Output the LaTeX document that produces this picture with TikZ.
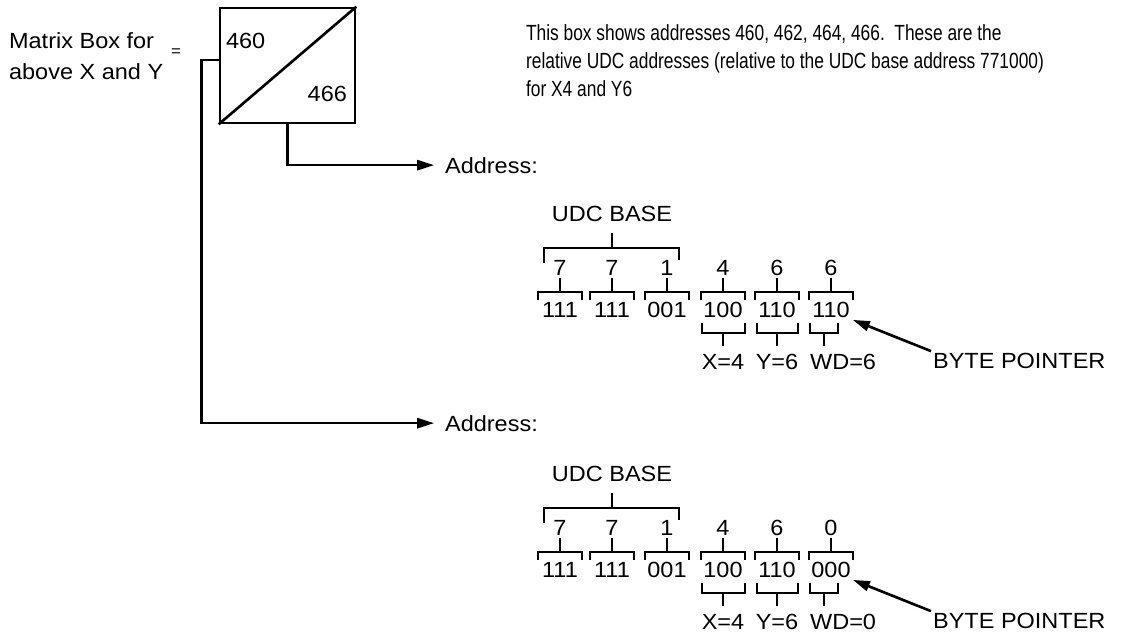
\documentclass[tikz,border=0pt]{standalone}
\usepackage{fontspec}
\setmainfont{Liberation Sans}[FakeStretch=1.07]
\newfontfamily\notefont{Liberation Sans}[FakeStretch=0.79]
\usetikzlibrary{arrows.meta}

\begin{document}
\begin{tikzpicture}[
    x=0.02cm, y=-0.02cm,
    font=\fontsize{12.5}{16.2}\selectfont,
    wire/.style={line width=1.5pt},
    brk/.style={line width=1.2pt},
    arr/.style={wire, -{Triangle[length=0.34cm, width=0.2cm]}},
    txt/.style={inner sep=1pt},
    bits/.style={txt, minimum width=0.86cm}
]
\useasboundingbox (0,0) rectangle (1140,637);

% the matrix box
\node[draw, wire, minimum width=2.7cm, minimum height=2.3cm] (mbox) at (287.5,65.5) {};
\draw[wire] (mbox.south west) -- (mbox.north east);
\node[txt, anchor=base west] (lo) at (224,48) {460};
\node[txt, anchor=base east] (hi) at (349,101) {466};

\node[txt, anchor=north west, align=left] (mlabel) at (7,30) {Matrix Box for\\[1.5pt]above X and Y};
\node[txt, font=\small] (eq) at (176,53) {=};

\node[txt, anchor=north west, align=left,
      font=\notefont\fontsize{12.5}{16.2}\selectfont] (note) at (524,22) {%
    This box shows addresses 460, 462, 464, 466.\ \ These are the\\
    relative UDC addresses (relative to the UDC base address 771000)\\
    for X4 and Y6};

% the two connectors
\node[txt, anchor=base west] (addr1) at (443,173) {Address:};
\node[txt, anchor=base west] (addr2) at (443,431) {Address:};
\coordinate (tap) at (mbox.west |- 0,60);
\draw[arr, shorten >=5pt] (mbox.south) |- (addr1.west);
\draw[arr, shorten >=5pt] (tap) -- ++(-17,0) |- (addr2.west);

% address break-down, drawn twice
\foreach \dy/\last/\lbits/\wdval [count=\k] in {0/6/110/6, 260/0/000/0} {
  \begin{scope}[shift={(0,\dy)}]
    \node[txt] (base\k) at (612,214) {UDC BASE};
    \draw[brk] (544,263) -- (544,248) -- (679,248) -- (679,260);
    \draw[brk] (612,248) -- ++(0,-15);

    \foreach \x/\v/\b [count=\i] in {560/7/111, 612/7/111, 667/1/001,
                                     723/4/100, 777/6/110, 831/\last/\lbits} {
      \node[txt] (d\k-\i) at (\x,268) {\v};
      \node[bits] (b\k-\i) at (\x,310) {\b};
      \draw[brk] (b\k-\i.north west) -- ++(0,-8) -| (b\k-\i.north east)
                 (b\k-\i.north) ++(0,-8) -- (d\k-\i.south);
    }

    % fields below the bits
    \node[txt] (xf\k) at (723,362) {X=4};
    \node[txt] (yf\k) at (777,362) {Y=6};
    \node[txt, anchor=west] (wf\k) at (808,362) {WD=\wdval};
    \draw[brk] (702,323) -- (702,333) -- (745,333) -- (745,323)
               (723,333) -- (723,346);
    \draw[brk] (757,323) -- (757,333) -- (798,333) -- (798,323)
               (777,333) -- (777,346);
    \draw[brk] (810,323) -- (810,333) -- (838,333) -- (838,323)
               (824,333) -- (824,346);

    \node[txt, anchor=west] (bp\k) at (931,361) {BYTE POINTER};
    \draw[arr] (bp\k.north west) -- (b\k-6.south east);
  \end{scope}
}
\end{tikzpicture}
\end{document}
